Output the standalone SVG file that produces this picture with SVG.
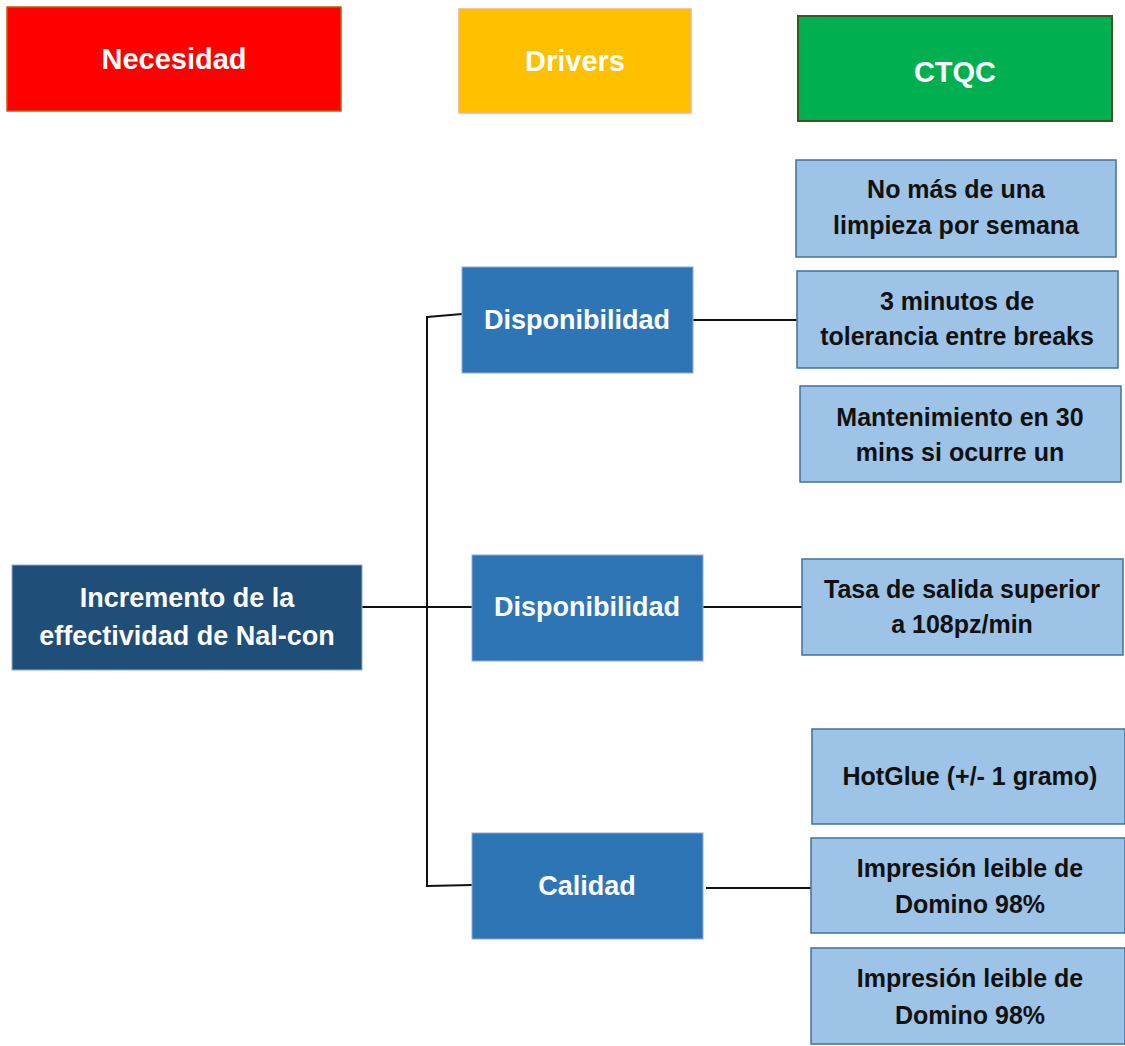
<svg xmlns="http://www.w3.org/2000/svg" width="1125" height="1046" viewBox="0 0 1125 1046">
<style>
text{font-family:"Liberation Sans",Arial,sans-serif;font-weight:bold;text-anchor:middle}
.w{fill:#fff}
.k{fill:#111;font-size:25px}
.hdr{font-size:29px}
.drv{font-size:27px}
.drvbox{fill:#2E75B6;stroke:#8FAADC;stroke-width:1}
.ctq{fill:#9DC3E6;stroke:#41719C;stroke-width:1.5}
.con{stroke:#111;stroke-width:2;fill:none}
</style>
<rect width="1125" height="1046" fill="#fff"/>
<g id="hdr-necesidad">
<rect x="7" y="7" width="334" height="104" fill="#FF0000" stroke="#C55A11" stroke-width="1.5"/>
<text class="w hdr" x="174" y="69">Necesidad</text>
</g>
<g id="hdr-drivers">
<rect x="459" y="9" width="232" height="104" fill="#FFC000" stroke="#F4B183" stroke-width="1.5"/>
<text class="w hdr" x="575" y="71">Drivers</text>
</g>
<g id="hdr-ctqc">
<rect x="798" y="16" width="314" height="105" fill="#00B050" stroke="#385723" stroke-width="2"/>
<text class="w hdr" x="955" y="82">CTQC</text>
</g>
<g id="connectors">
<path class="con" d="M362 607H472"/>
<path class="con" d="M427 316V887"/>
<path class="con" d="M427 317L462 314"/>
<path class="con" d="M427 886L472 885"/>
<path class="con" d="M693 320H797"/>
<path class="con" d="M703 607H802"/>
<path class="con" d="M706 888H811"/>
</g>
<g id="root">
<rect x="12" y="565" width="350" height="105" fill="#1F4E79" stroke="#8FAADC" stroke-width="1"/>
<text class="w drv" x="187" y="607">Incremento de la</text>
<text class="w drv" x="187" y="645">effectividad de Nal-con</text>
</g>
<g id="driver-disp1">
<rect class="drvbox" x="462" y="267" width="231" height="106"/>
<text class="w drv" x="577" y="329">Disponibilidad</text>
</g>
<g id="driver-disp2">
<rect class="drvbox" x="472" y="555" width="231" height="106"/>
<text class="w drv" x="587" y="616">Disponibilidad</text>
</g>
<g id="driver-calidad">
<rect class="drvbox" x="472" y="833" width="231" height="106"/>
<text class="w drv" x="587" y="895">Calidad</text>
</g>
<g id="ctqc-1">
<rect class="ctq" x="796" y="160" width="320" height="97"/>
<text class="k" x="956" y="198">No más de una</text>
<text class="k" x="956" y="234">limpieza por semana</text>
</g>
<g id="ctqc-2">
<rect class="ctq" x="797" y="271" width="321" height="97"/>
<text class="k" x="957" y="310">3 minutos de</text>
<text class="k" x="957" y="345">tolerancia entre breaks</text>
</g>
<g id="ctqc-3">
<rect class="ctq" x="800" y="386" width="321" height="96"/>
<text class="k" x="960" y="426">Mantenimiento en 30</text>
<text class="k" x="960" y="461">mins si ocurre un</text>
</g>
<g id="ctqc-4">
<rect class="ctq" x="802" y="559" width="321" height="96"/>
<text class="k" x="962" y="598">Tasa de salida superior</text>
<text class="k" x="962" y="633">a 108pz/min</text>
</g>
<g id="ctqc-5">
<rect class="ctq" x="812" y="729" width="313" height="95"/>
<text class="k" x="970" y="785">HotGlue (+/- 1 gramo)</text>
</g>
<g id="ctqc-6">
<rect class="ctq" x="811" y="838" width="314" height="95"/>
<text class="k" x="970" y="877">Impresión leible de</text>
<text class="k" x="970" y="913">Domino 98%</text>
</g>
<g id="ctqc-7">
<rect class="ctq" x="811" y="948" width="314" height="96"/>
<text class="k" x="970" y="987">Impresión leible de</text>
<text class="k" x="970" y="1024">Domino 98%</text>
</g>
</svg>
